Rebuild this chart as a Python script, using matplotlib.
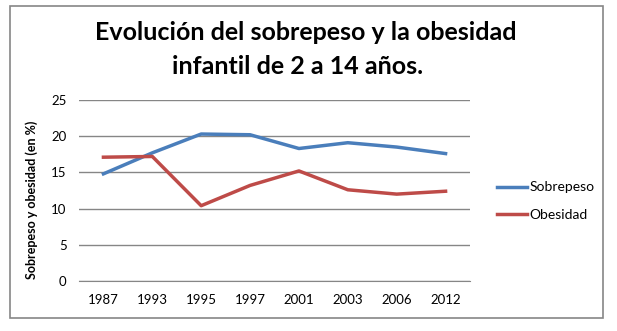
import matplotlib.pyplot as plt
from matplotlib.patches import Rectangle

plt.rcParams['font.family'] = ['Lato', 'DejaVu Sans']

# Years (category axis) and percentages per series
years = ['1987', '1993', '1995', '1997', '2001', '2003', '2006', '2012']
sobrepeso = [14.8, 17.7, 20.3, 20.2, 18.3, 19.1, 18.5, 17.6]
obesidad = [17.1, 17.2, 10.4, 13.2, 15.2, 12.6, 12.0, 12.4]

fig = plt.figure(figsize=(6.17, 3.31), dpi=100)

# outer chart frame
fig.patches.append(Rectangle((10 / 617, 1 - 318 / 331), 593 / 617, 312 / 331,
                             transform=fig.transFigure, fill=False,
                             edgecolor='#868686', linewidth=1.2))

ax = fig.add_axes([79 / 617, 1 - 281 / 331, 391 / 617, 181 / 331])
x = range(len(years))
ax.plot(x, sobrepeso, color='#4a7ebb', linewidth=2.5, label='Sobrepeso')
ax.plot(x, obesidad, color='#be4b48', linewidth=2.5, label='Obesidad')

ax.set_xlim(-0.5, len(years) - 0.5)
ax.set_ylim(0, 25)
ax.set_yticks(range(0, 26, 5))
ax.set_xticks(list(x))
ax.set_xticklabels(years)
ax.grid(axis='y', color='#868686', linewidth=1)
ax.set_axisbelow(True)
for side in ['top', 'right', 'left']:
    ax.spines[side].set_visible(False)
ax.spines['bottom'].set_color('#868686')
ax.tick_params(length=0, labelsize=9.5, colors='black', pad=9)
ax.set_ylabel('Sobrepeso y obesidad (en %)', fontsize=9, fontweight='bold', labelpad=6)
ax.yaxis.set_label_coords(-0.105, 0.45)

fig.text(306 / 617, 1 - 33 / 331, 'Evolución del sobrepeso y la obesidad',
         ha='center', va='center', fontsize=18, fontweight='bold')
fig.text(298 / 617, 1 - 67 / 331, 'infantil de 2 a 14 años.',
         ha='center', va='center', fontsize=18, fontweight='bold')

ax.legend(loc='center left', bbox_to_anchor=(484 / 617, 1 - 201 / 331),
          bbox_transform=fig.transFigure, frameon=False, fontsize=10,
          handlelength=2.2, handletextpad=0.2, labelspacing=1.1)

fig.savefig('out.png', dpi=100)
